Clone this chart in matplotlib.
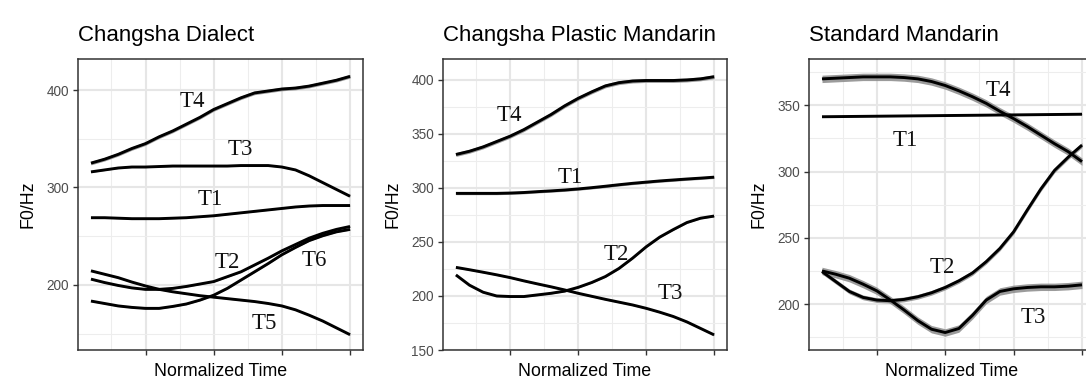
import numpy as np
import matplotlib
matplotlib.use("Agg")
import matplotlib.pyplot as plt
from matplotlib.ticker import MultipleLocator, NullFormatter

# tempo normalizado (20 pontos)
tempo = list(range(1, 21))

# Changsha Dialect
cd_T4 = [325, 329, 334, 340, 345, 352, 358, 365, 372, 380, 386, 392, 397, 399, 401, 402, 404, 407, 410, 414]
cd_T3 = [316, 318, 320, 321, 321, 321.5, 322, 322, 322, 322, 322, 322.5, 322.5, 322.5, 321, 318, 312, 305, 298, 291]
cd_T1 = [269, 269, 268.5, 268, 268, 268, 268.5, 269, 270, 271, 272.5, 274, 275.5, 277, 278.5, 280, 281, 281.5, 281.5, 281.5]
cd_T2 = [206, 202.5, 199.5, 197, 195.5, 195.5, 196.5, 198.5, 201, 203.5, 208.5, 213.5, 220.5, 227.5, 235, 241.5, 248, 253, 257, 260]
cd_T6 = [183.5, 181, 178.5, 177, 176, 176, 178, 180.5, 184.5, 189.5, 196.5, 205, 213.5, 222, 231, 238.5, 245.5, 250.5, 254.5, 257]
cd_T5 = [214.5, 211, 207.5, 203, 199, 195.5, 193, 191, 189, 187.5, 186, 184.5, 183, 181, 178.5, 174.5, 169, 163, 156, 149]

# Changsha Plastic Mandarin
cp_T4 = [331, 334, 338, 343, 348, 354, 361, 368, 376, 383, 389, 394.5, 397.5, 399, 399.5, 399.5, 399.5, 400, 401, 403]
cp_T1 = [295, 295, 295, 295, 295.3, 295.8, 296.6, 297.3, 298.1, 299.1, 300.3, 301.6, 303, 304.3, 305.4, 306.5, 307.4, 308.3, 309.1, 310]
cp_T2 = [219.5, 210, 203.5, 200, 199.5, 199.5, 201, 202.5, 204.5, 208, 212.5, 218, 225.5, 235, 245.5, 254.5, 261.5, 268, 272, 274]
cp_T3 = [226.5, 224.3, 222, 219.6, 217, 214, 211.2, 208.5, 205.6, 202.5, 199.7, 196.9, 194.3, 191.7, 188.6, 185, 181, 176, 170, 164]

# Standard Mandarin
sm_T4 = [370, 370.5, 371, 371.5, 371.5, 371.5, 371, 370, 368, 365, 361, 356.5, 351.5, 345.5, 340, 334, 327.5, 321, 315, 307.5]
sm_T1 = [341.4, 341.5, 341.6, 341.7, 341.8, 341.9, 342, 342.1, 342.2, 342.3, 342.4, 342.5, 342.6, 342.7, 342.8, 342.9, 343, 343.1, 343.2, 343.3]
sm_T2 = [224.5, 217, 209.5, 205, 203, 202.5, 203.5, 205.5, 208.5, 212.5, 217.5, 223.5, 232, 242, 254.5, 271, 287, 301, 311, 320]
sm_T3 = [225, 222.5, 219.5, 215, 210, 203, 195.5, 187.5, 181, 178.5, 181.5, 191.5, 203, 209.5, 211.5, 212.5, 213, 213, 213.5, 214.5]

# meia largura da faixa de confianca (Hz)
cd_se = [1.8, 0.6, 0.5, 0.6, 0.6, 0.6]
cp_se = [1.8, 1.2, 0.6, 0.6]
sm_se = [2.8, 0.3, 1.8, 2.8]

# rotulos dos tons e onde ficam
cd_nomes = ["T4", "T3", "T1", "T2", "T6", "T5"]
cd_lx = [8.46, 11.94, 9.75, 11.01, 17.35, 13.69]
cd_ly = [388.7, 338.5, 287.2, 223.2, 224.6, 160.0]

cp_nomes = ["T4", "T1", "T2", "T3"]
cp_lx = [4.95, 9.39, 12.83, 16.78]
cp_ly = [367.0, 309.6, 238.6, 201.9]

sm_nomes = ["T4", "T1", "T2", "T3"]
sm_lx = [13.88, 7.05, 9.78, 16.41]
sm_ly = [361.1, 323.8, 227.7, 190.0]

W, H = 1086, 378
fig = plt.figure(figsize=(W / 100, H / 100), dpi=100)

paineis = [
    ("Changsha Dialect", [cd_T4, cd_T3, cd_T1, cd_T2, cd_T6, cd_T5], cd_se, cd_nomes, cd_lx, cd_ly,
     (133.3, 431.8), 100, 78, 285),
    ("Changsha Plastic Mandarin", [cp_T4, cp_T1, cp_T2, cp_T3], cp_se, cp_nomes, cp_lx, cp_ly,
     (150, 419.4), 50, 443, 284),
    ("Standard Mandarin", [sm_T4, sm_T1, sm_T2, sm_T3], sm_se, sm_nomes, sm_lx, sm_ly,
     (165.3, 385.0), 50, 809, 286),
]

top_px, bot_px = 59, 350
for titulo, series, ses, nomes, lx, ly, ylim, passo, left_px, w_px in paineis:
    ax = fig.add_axes([left_px / W, (H - bot_px) / H, w_px / W, (bot_px - top_px) / H])
    x = np.array(tempo)
    for s, se in zip(series, ses):
        s = np.array(s)
        ax.fill_between(x, s - se, s + se, color="#8a8a8a", alpha=0.85, lw=0, zorder=2)
        ax.plot(x, s, color="black", lw=2.1, zorder=3, solid_capstyle="butt",
                solid_joinstyle="round")
    for n, a, b in zip(nomes, lx, ly):
        ax.text(a, b, n, ha="center", va="center", fontsize=16.5,
                family="Liberation Serif", color="#111111", zorder=4)

    ax.set_xlim(0.05, 20.95)
    ax.set_ylim(*ylim)
    ax.xaxis.set_major_locator(MultipleLocator(5))
    ax.xaxis.set_minor_locator(MultipleLocator(2.5))
    ax.xaxis.set_major_formatter(NullFormatter())
    ax.yaxis.set_major_locator(MultipleLocator(passo))
    ax.yaxis.set_minor_locator(MultipleLocator(passo / 2))
    ax.grid(which="major", color="#E6E6E6", lw=1.5, zorder=0)
    ax.grid(which="minor", color="#EDEDED", lw=0.8, zorder=0)
    ax.set_axisbelow(True)
    ax.tick_params(which="major", length=3.6, width=1.0, color="#333333",
                   labelsize=9.8, labelcolor="#4D4D4D", pad=3)
    ax.tick_params(which="minor", length=0)
    for lab in ax.get_yticklabels():
        lab.set_family("Liberation Sans")
    for sp in ax.spines.values():
        sp.set_color("#333333")
        sp.set_linewidth(1.1)

    h_px = bot_px - top_px
    ax.text(0, 1 + 18 / h_px, titulo, transform=ax.transAxes, ha="left", va="baseline",
            fontsize=16, family="Liberation Sans")
    ax.text(0.5, -13 / h_px, "Normalized Time", transform=ax.transAxes, ha="center", va="top",
            fontsize=12.8, family="Liberation Sans")
    ax.text(-50 / w_px, 0.5, "F0/Hz", transform=ax.transAxes, ha="center", va="center",
            rotation=90, fontsize=12.8, family="Liberation Sans")

fig.savefig("out.png", dpi=100)
